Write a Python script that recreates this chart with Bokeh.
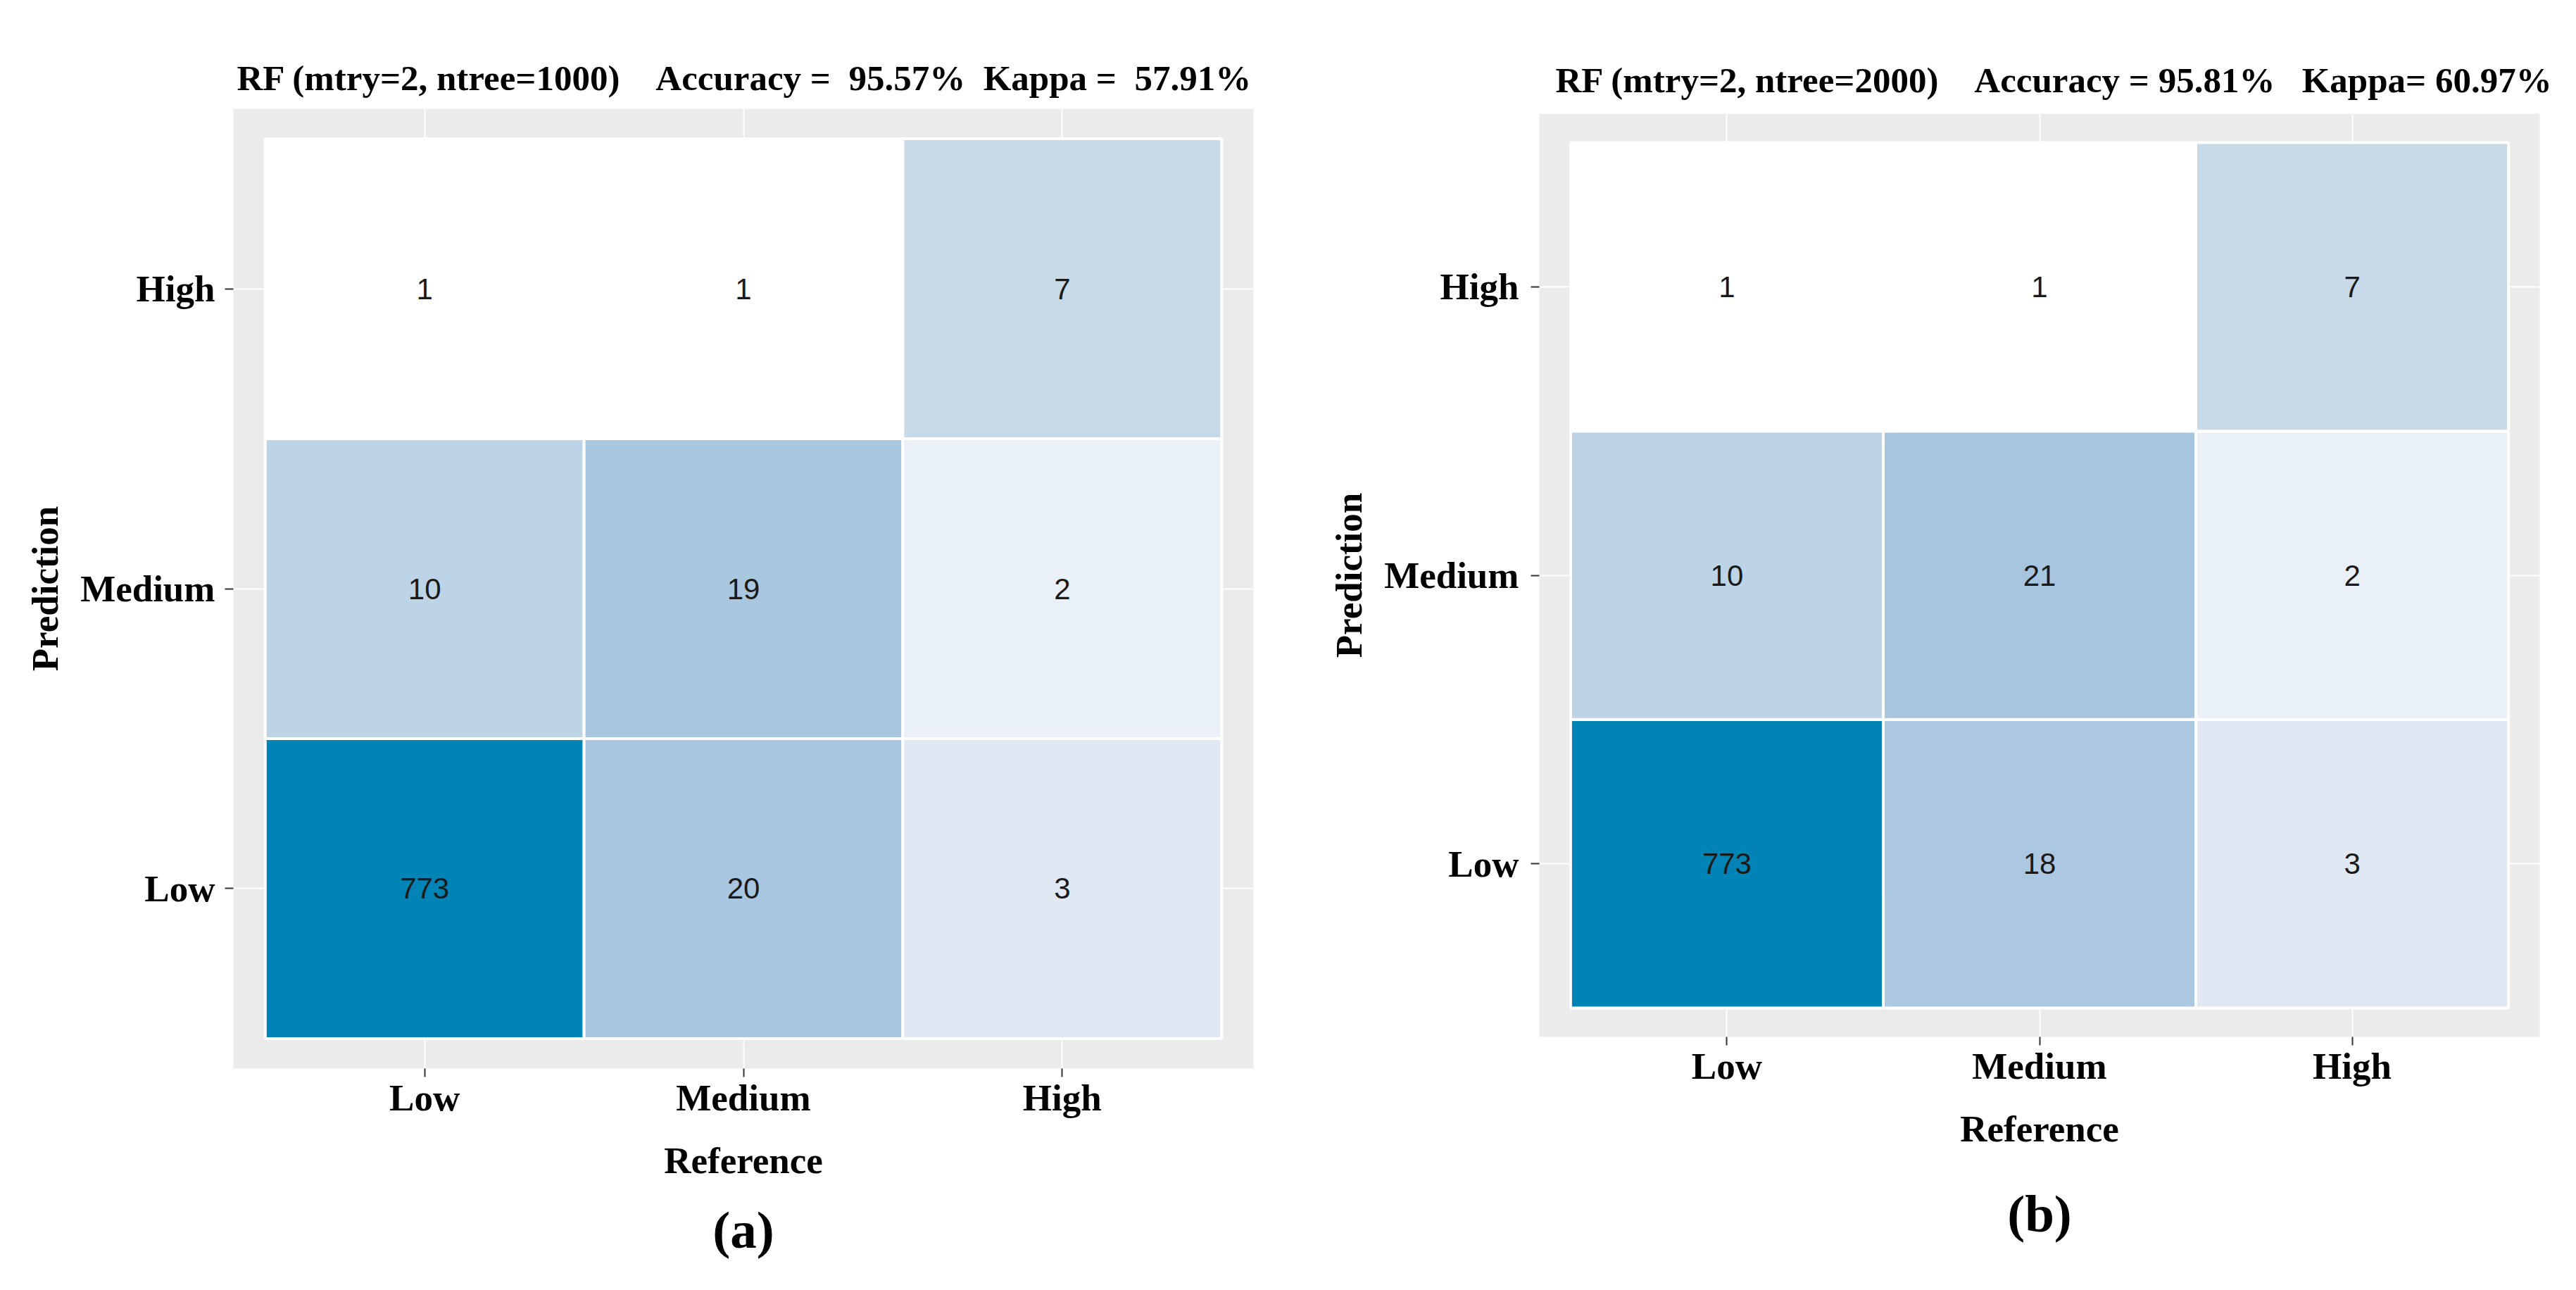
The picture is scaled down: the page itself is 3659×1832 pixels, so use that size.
import math
from bokeh.plotting import figure
from bokeh.models import ColumnDataSource, FactorRange, Title
from bokeh.layouts import row
from bokeh.embed import file_html
from bokeh.resources import INLINE
from bokeh.core.properties import value

# ---------------- data ----------------
classes = ["Low", "Medium", "High"]

# rows = Prediction (Low, Medium, High), columns = Reference (Low, Medium, High)
cm_a = [[773, 20, 3],
        [10, 19, 2],
        [1, 1, 7]]
cm_b = [[773, 18, 3],
        [10, 21, 2],
        [1, 1, 7]]

NB = "\u00a0"
title_a = "RF (mtry=2, ntree=1000)" + NB * 4 + "Accuracy =" + NB * 2 + "95.57%" + NB * 2 + "Kappa =" + NB * 2 + "57.91%"
title_b = "RF (mtry=2, ntree=2000)" + NB * 4 + "Accuracy = 95.81%" + NB * 3 + "Kappa= 60.97%"
tag_a = "(a)"
tag_b = "(b)"
x_label = "Reference"
y_label = "Prediction"

# fill colour scale (log of count)
scale_counts = [1, 2, 3, 7, 10, 20, 773]
scale_colors = ["#FFFFFF", "#EAF0F8", "#E0E9F3", "#C8D9E8", "#BDD3E6", "#A9C6E0", "#0083B5"]


def _rgb(h):
    h = h.lstrip("#")
    return tuple(int(h[i:i + 2], 16) for i in (0, 2, 4))


def fill_for(v):
    t = math.log(v)
    lt = [math.log(c) for c in scale_counts]
    if t <= lt[0]:
        return scale_colors[0]
    if t >= lt[-1]:
        return scale_colors[-1]
    for k in range(len(lt) - 1):
        if lt[k] <= t <= lt[k + 1]:
            f = (t - lt[k]) / (lt[k + 1] - lt[k])
            c0, c1 = _rgb(scale_colors[k]), _rgb(scale_colors[k + 1])
            c = [round(a + (b - a) * f) for a, b in zip(c0, c1)]
            return "#%02X%02X%02X" % tuple(c)


SERIF = "Liberation Serif"
SANS = "Liberation Sans"


def make_panel(cm, title, tag, width, height, bl, br, bt, bb,
               title_offset, title_standoff, ylab_standoff, tag_standoff):
    refs, preds, vals, cols = [], [], [], []
    for i, pred in enumerate(classes):
        for j, ref in enumerate(classes):
            refs.append(ref)
            preds.append(pred)
            vals.append(str(cm[i][j]))
            cols.append(fill_for(cm[i][j]))
    src = ColumnDataSource(dict(ref=refs, pred=preds, val=vals, col=cols))

    p = figure(width=width, height=height,
               x_range=FactorRange(factors=classes, range_padding=0.1,
                                   range_padding_units="absolute"),
               y_range=FactorRange(factors=classes, range_padding=0.1,
                                   range_padding_units="absolute"),
               output_backend="svg", toolbar_location=None,
               frame_align=False,
               min_border_left=bl, min_border_right=br,
               min_border_top=bt, min_border_bottom=bb)
    p.background_fill_color = "#EBEBEB"
    p.border_fill_color = "white"
    p.outline_line_color = None

    p.rect(x="ref", y="pred", width=1, height=1, source=src,
           fill_color="col", line_color="white", line_width=4)
    p.text(x="ref", y="pred", text="val", source=src,
           text_align="center", text_baseline="middle",
           text_font=value(SANS), text_font_size="42px", text_color="#1A1A1A")

    for g in (p.xgrid, p.ygrid):
        g.grid_line_color = "white"
        g.grid_line_width = 2

    for ax in (p.xaxis, p.yaxis):
        ax.axis_line_color = None
        ax.major_tick_line_color = "#333333"
        ax.major_tick_line_width = 2
        ax.major_tick_out = 12
        ax.major_tick_in = 0
        ax.major_label_text_font = SERIF
        ax.major_label_text_font_style = "bold"
        ax.major_label_text_font_size = "53px"
        ax.major_label_text_color = "black"
        ax.axis_label_text_font = SERIF
        ax.axis_label_text_font_style = "bold"
        ax.axis_label_text_font_size = "53px"
        ax.axis_label_text_color = "black"
    p.xaxis.axis_label = x_label
    p.yaxis.axis_label = y_label
    p.xaxis.major_label_standoff = 0
    p.xaxis.axis_label_standoff = 28
    p.yaxis.major_label_standoff = ylab_standoff
    p.yaxis.axis_label_standoff = 18

    p.title.text = title
    p.title.align = "left"
    p.title.offset = title_offset
    p.title.text_font = SERIF
    p.title.text_font_style = "bold"
    p.title.text_font_size = "51px"
    p.title.text_color = "black"
    p.title.standoff = title_standoff

    p.add_layout(Title(text=tag, align="center", text_font=SERIF,
                       text_font_style="bold", text_font_size="75px",
                       text_color="black", standoff=tag_standoff), "below")
    return p


pa = make_panel(cm_a, title_a, tag_a, 1822, 1821, 331, 42, 154, 304,
                title_offset=5, title_standoff=31, ylab_standoff=14, tag_standoff=46)
pb = make_panel(cm_b, title_b, tag_b, 1821, 1821, 364, 36, 161, 349,
                title_offset=23, title_standoff=40, ylab_standoff=17, tag_standoff=90)

layout = row(pa, pb)
open("out.html", "w").write(file_html(layout, INLINE))
